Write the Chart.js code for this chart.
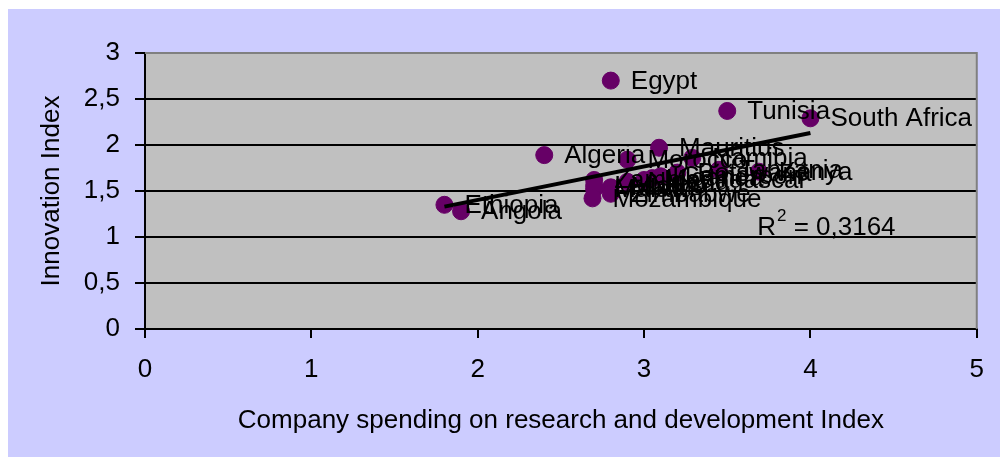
<!DOCTYPE html>
<html>
<head>
<meta charset="utf-8">
<script src="https://cdn.jsdelivr.net/npm/chart.js@4/dist/chart.umd.min.js"></script>
<style>
  html, body { margin: 0; padding: 0; background: #ffffff; }
  #wrap { width: 1000px; height: 458px; }
</style>
</head>
<body>
<div id="wrap"><canvas id="chart" width="1000" height="458"></canvas></div>
<script>
// countries and their two index values
var countries = ["Egypt", "Tunisia", "South Africa", "Algeria", "Mauritius", "Morocco",
  "Namibia", "Kenya", "Tanzania", "Botswana", "Madagascar", "Zambia", "Malawi", "Mali",
  "Nigeria", "Uganda", "Cameroon", "Zimbabwe", "Lesotho", "Mozambique", "Ethiopia", "Angola"];
var rdSpending = [2.8, 3.5, 4.0, 2.4, 3.09, 2.9,
  3.29, 3.69, 3.45, 3.2, 3.0, 2.7, 2.7, 2.8,
  2.9, 3.05, 3.1, 2.8, 2.7, 2.69, 1.8, 1.9];
var innovation = [2.70, 2.37, 2.29, 1.89, 1.97, 1.84,
  1.86, 1.71, 1.73, 1.70, 1.62, 1.62, 1.52, 1.54,
  1.60, 1.64, 1.66, 1.47, 1.56, 1.42, 1.35, 1.28];

// linear trend line end points
var trendX = [1.8, 4.0];
var trendY = [1.33, 2.13];
var rSquared = "0,3164";

var xTicks = [0, 1, 2, 3, 4, 5];
var yTicks = [0, 0.5, 1, 1.5, 2, 2.5, 3];

var points = rdSpending.map(function (x, i) { return { x: x, y: innovation[i] }; });
var trend = trendX.map(function (x, i) { return { x: x, y: trendY[i] }; });

var FONT = "'Liberation Sans', Arial, sans-serif";
var SIZE = 26;

var frame = {
  id: 'frame',
  beforeDraw: function (chart) {
    var c = chart.ctx, a = chart.chartArea;
    c.save();
    c.fillStyle = '#ffffff';
    c.fillRect(0, 0, chart.width, chart.height);
    c.fillStyle = '#ccccff';
    c.fillRect(8, 9, chart.width - 8, chart.height - 10);
    c.fillStyle = '#c0c0c0';
    c.fillRect(a.left, a.top, a.right - a.left, a.bottom - a.top);
    c.restore();
  },
  afterDraw: function (chart) {
    var c = chart.ctx, a = chart.chartArea;
    c.save();
    c.strokeStyle = '#808080';
    c.lineWidth = 2;
    c.beginPath();
    c.moveTo(a.left, a.top);
    c.lineTo(a.right, a.top);
    c.lineTo(a.right, a.bottom);
    c.stroke();
    c.restore();
  }
};

var labels = {
  id: 'labels',
  afterDatasetsDraw: function (chart) {
    var c = chart.ctx;
    var meta = chart.getDatasetMeta(1);
    c.save();
    c.font = SIZE + 'px ' + FONT;
    c.fillStyle = '#000000';
    c.textBaseline = 'middle';
    c.textAlign = 'left';
    meta.data.forEach(function (pt, i) {
      c.fillText(countries[i], pt.x + 20, pt.y + 1);
    });
    // R squared
    var xs = chart.scales.x, ys = chart.scales.y;
    var rx = xs.getPixelForValue(3.68), ry = ys.getPixelForValue(1.1);
    c.fillText('R', rx, ry);
    var w = c.measureText('R').width;
    c.font = '17px ' + FONT;
    c.fillText('2', rx + w + 1, ry - 11);
    var w2 = c.measureText('2').width;
    c.font = SIZE + 'px ' + FONT;
    c.fillText(' = ' + rSquared, rx + w + w2 + 1, ry);
    c.restore();
  }
};

new Chart(document.getElementById('chart'), {
  type: 'scatter',
  data: {
    datasets: [
      {
        type: 'line',
        label: 'Trend',
        data: trend,
        borderColor: '#000000',
        borderWidth: 4,
        pointRadius: 0,
        fill: false,
        order: 0
      },
      {
        label: 'Countries',
        data: points,
        backgroundColor: '#660066',
        borderColor: '#660066',
        pointRadius: 8.5,
        pointHoverRadius: 8.5,
        order: 1
      }
    ]
  },
  options: {
    responsive: false,
    animation: false,
    layout: { padding: { left: 0, right: 22, top: 53, bottom: 0 } },
    plugins: {
      legend: { display: false },
      tooltip: { enabled: false }
    },
    scales: {
      x: {
        type: 'linear',
        min: 0, max: 5,
        afterBuildTicks: function (s) { s.ticks = xTicks.map(function (v) { return { value: v }; }); },
        afterFit: function (s) { s.height = 129; },
        grid: { drawOnChartArea: false, color: '#000000', tickLength: 9, lineWidth: 2 },
        border: { color: '#000000', width: 2 },
        ticks: {
          color: '#000000', padding: 16,
          font: { family: FONT, size: SIZE },
          callback: function (v) { return String(v).replace('.', ','); }
        },
        title: {
          display: true,
          text: 'Company spending on research and development Index',
          color: '#000000',
          font: { family: FONT, size: SIZE },
          padding: { top: 0, bottom: 22 }
        }
      },
      y: {
        type: 'linear',
        min: 0, max: 3,
        afterBuildTicks: function (s) { s.ticks = yTicks.map(function (v) { return { value: v }; }); },
        afterFit: function (s) { s.width = 145; },
        grid: { color: '#000000', tickLength: 10, lineWidth: 2 },
        border: { color: '#000000', width: 2 },
        ticks: {
          color: '#000000', padding: 15,
          font: { family: FONT, size: SIZE },
          callback: function (v) { return String(v).replace('.', ','); }
        },
        title: {
          display: true,
          text: 'Innovation Index',
          color: '#000000',
          font: { family: FONT, size: SIZE },
          padding: { top: 36, bottom: 0 }
        }
      }
    }
  },
  plugins: [frame, labels]
});
</script>
</body>
</html>
